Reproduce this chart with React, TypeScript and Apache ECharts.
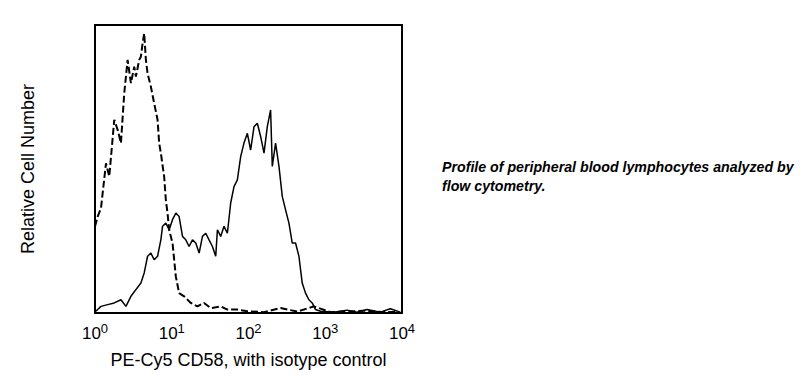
import React, { useEffect, useRef } from "react";
import * as echarts from "echarts";

// x in decades (log10 of fluorescence), y = relative cell number
const isotypeX = [0.0, 0.035, 0.078, 0.143, 0.186, 0.251, 0.295, 0.338, 0.381, 0.425, 0.468, 0.511, 0.533, 0.576, 0.598, 0.62, 0.641, 0.663, 0.685, 0.728, 0.771, 0.815, 0.836, 0.858, 0.901, 0.923, 0.945, 0.966, 1.01, 1.053, 1.096, 1.161, 1.248, 1.335, 1.421, 1.508, 1.638, 1.725, 1.855, 1.985, 2.202, 2.418, 2.635, 2.852, 3.068, 3.285, 3.502, 3.718, 3.935];
const isotypeY = [30, 33.5, 36.4, 52.0, 47.4, 67.1, 63.6, 59.0, 76.3, 87.9, 79.8, 85.5, 82.1, 87.9, 89.0, 93.6, 97.1, 87.9, 83.2, 78.6, 72.8, 67.1, 59.0, 55.5, 47.4, 39.3, 34.7, 28.9, 24.3, 12.7, 6.9, 5.8, 3.5, 2.3, 3.5, 1.7, 2.3, 1.2, 1.2, 0.6, 0.3, 1.7, 0.5, 2.3, 0.3, 0.5, 0.8, 0.4, 0.3];

const cd58X = [0.0, 0.035, 0.078, 0.165, 0.251, 0.338, 0.403, 0.468, 0.533, 0.598, 0.641, 0.685, 0.728, 0.771, 0.815, 0.858, 0.88, 0.923, 0.966, 1.01, 1.053, 1.096, 1.14, 1.183, 1.226, 1.27, 1.313, 1.357, 1.4, 1.443, 1.486, 1.53, 1.573, 1.595, 1.638, 1.681, 1.725, 1.768, 1.811, 1.855, 1.898, 1.941, 1.985, 2.028, 2.072, 2.115, 2.158, 2.202, 2.245, 2.288, 2.31, 2.353, 2.397, 2.44, 2.483, 2.527, 2.57, 2.613, 2.657, 2.7, 2.743, 2.787, 2.83, 2.873, 2.938, 3.112, 3.285, 3.415, 3.545, 3.718, 3.848, 3.978];
const cd58Y = [0.5, 1.2, 2.3, 2.9, 3.5, 4.6, 2.3, 5.8, 8.1, 10.4, 13.9, 19.7, 20.8, 18.5, 19.7, 25.4, 30.1, 31.2, 28.9, 32.4, 34.7, 33.5, 26.6, 25.4, 23.1, 25.4, 24.3, 20.8, 26.6, 27.7, 25.4, 23.1, 19.7, 28.9, 26.6, 30.1, 27.7, 38.2, 43.9, 46.2, 54.3, 59.0, 62.4, 56.6, 64.7, 65.9, 61.3, 55.5, 64.7, 70.5, 50.9, 59.0, 50.9, 40.5, 35.8, 31.2, 24.3, 24.3, 19.7, 10.4, 6.9, 4.6, 3.5, 1.2, 0.6, 0.3, 1.0, 0.3, 1.2, 0.3, 1.5, 0.3];

const decadeTicks = [0, 1, 2, 3, 4];
const xTitle = "PE-Cy5 CD58, with isotype control";
const yTitle = "Relative Cell Number";
const noteLines = ["Profile of peripheral blood lymphocytes analyzed by", "flow cytometry."];

export default function App() {
  const ref = useRef<HTMLDivElement>(null);
  useEffect(() => {
    document.body.style.margin = "0";
    const chart = echarts.init(ref.current!, null, { renderer: "svg" });
    const font = "Liberation Sans, Arial, sans-serif";
    chart.setOption({
      animation: false,
      backgroundColor: "#fff",
      textStyle: { fontFamily: font },
      grid: {
        left: 95,
        top: 25,
        width: 307,
        height: 288,
        show: true,
        borderColor: "#000",
        borderWidth: 2,
        backgroundColor: "transparent",
      },
      xAxis: {
        type: "value",
        min: 0,
        max: 4,
        interval: 1,
        axisLine: { show: false },
        axisTick: { show: false },
        splitLine: { show: false },
        axisLabel: {
          margin: 9,
          color: "#000",
          fontSize: 17,
          fontFamily: font,
          formatter: (v: number) =>
            decadeTicks.includes(v) ? `10{sup|${v}}` : "",
          rich: {
            sup: { fontSize: 13, fontFamily: font, color: "#000", padding: [0, 0, 10, 0] },
          },
        },
        name: xTitle,
        nameLocation: "middle",
        nameGap: 38,
        nameTextStyle: { color: "#000", fontSize: 18, fontFamily: font },
      },
      yAxis: {
        type: "value",
        min: 0,
        max: 100,
        axisLine: { show: false },
        axisTick: { show: false },
        axisLabel: { show: false },
        splitLine: { show: false },
        name: yTitle,
        nameLocation: "middle",
        nameGap: 58,
        nameRotate: 90,
        nameTextStyle: { color: "#000", fontSize: 18, fontFamily: font },
      },
      series: [
        {
          type: "line",
          data: isotypeX.map((x, i) => [x, isotypeY[i]]),
          showSymbol: false,
          symbol: "none",
          lineStyle: { color: "#000", width: 2, type: [7, 3] },
          clip: true,
        },
        {
          type: "line",
          data: cd58X.map((x, i) => [x, cd58Y[i]]),
          showSymbol: false,
          symbol: "none",
          lineStyle: { color: "#000", width: 1.5 },
          clip: true,
        },
      ],
      graphic: noteLines.map((t, i) => ({
        type: "text",
        left: 442,
        top: 160 + i * 19,
        style: {
          text: t,
          fill: "#000",
          fontSize: 14.2,
          fontWeight: "bold",
          fontStyle: "italic",
          fontFamily: font,
        },
      })),
    });
    return () => chart.dispose();
  }, []);
  return <div ref={ref} style={{ width: 812, height: 392 }} />;
}
